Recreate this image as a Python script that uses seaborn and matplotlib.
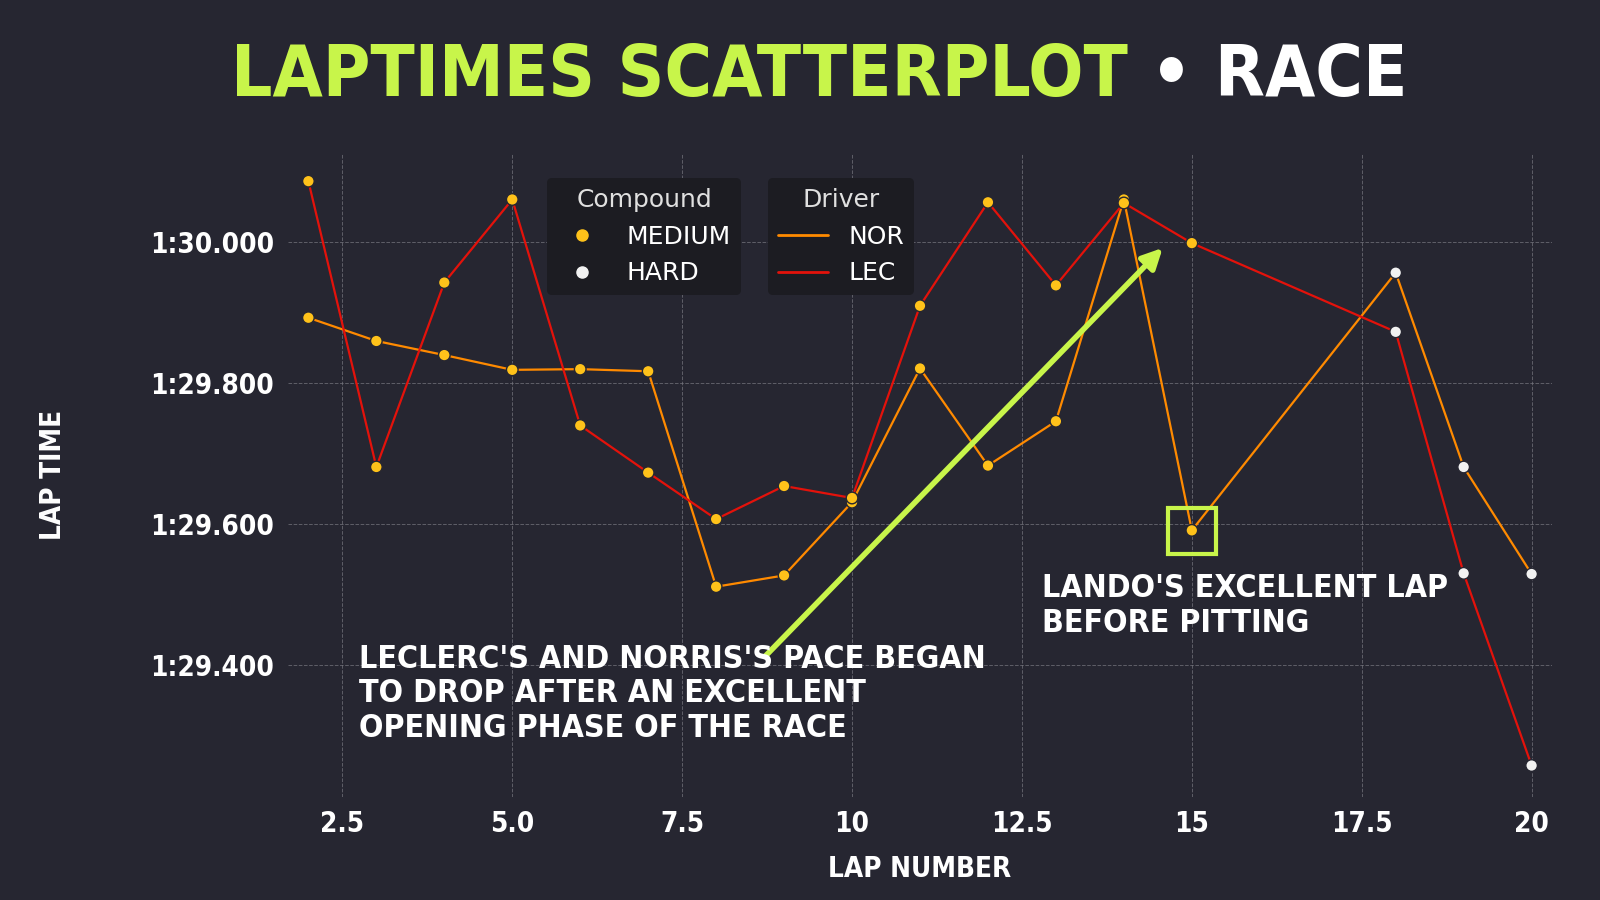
import pandas as pd
import seaborn as sns
import matplotlib.pyplot as plt
from matplotlib.lines import Line2D
from matplotlib.patches import Rectangle
from matplotlib.ticker import FuncFormatter

# lap times in seconds
nor_laps = [2, 3, 4, 5, 6, 7, 8, 9, 10, 11, 12, 13, 14, 15, 18, 19, 20]
nor_times = [89.893, 89.860, 89.840, 89.819, 89.820, 89.817, 89.511, 89.527, 89.631,
             89.821, 89.683, 89.746, 90.061, 89.591, 89.957, 89.681, 89.529]
nor_compound = ["MEDIUM"] * 14 + ["HARD"] * 3
lec_laps = [2, 3, 4, 5, 6, 7, 8, 9, 10, 11, 12, 13, 14, 15, 18, 19, 20]
lec_times = [90.087, 89.681, 89.943, 90.061, 89.740, 89.673, 89.607, 89.654, 89.637,
             89.910, 90.057, 89.939, 90.056, 89.999, 89.873, 89.530, 89.257]
lec_compound = ["MEDIUM"] * 14 + ["HARD"] * 3

df = pd.concat([
    pd.DataFrame({"lap": nor_laps, "time": nor_times, "Compound": nor_compound, "Driver": "NOR"}),
    pd.DataFrame({"lap": lec_laps, "time": lec_times, "Compound": lec_compound, "Driver": "LEC"}),
])

BG = "#262631"
LIME = "#c8f54a"
COND = dict(family="DejaVu Sans", stretch="condensed", fontweight="bold")
driver_colors = {"NOR": "#ff8a00", "LEC": "#e3120b"}
compound_colors = {"MEDIUM": "#ffc21a", "HARD": "#f2f2f2"}

sns.set_style("dark")
plt.rcParams["font.family"] = ["DejaVu Sans"]

fig = plt.figure(figsize=(16, 9), dpi=100, facecolor=BG)
ax = fig.add_axes([0.18, 0.115, 0.79, 0.715], facecolor=BG)

sns.lineplot(data=df, x="lap", y="time", hue="Driver", palette=driver_colors,
             ax=ax, legend=False, linewidth=1.6, zorder=2)
sns.scatterplot(data=df, x="lap", y="time", hue="Compound", palette=compound_colors,
                ax=ax, legend=False, s=70, edgecolor=BG, linewidth=1, zorder=3)

ax.set_xlim(1.7, 20.3)
ax.set_ylim(89.213, 90.127)
ax.set_xticks([2.5, 5.0, 7.5, 10, 12.5, 15, 17.5, 20])
ax.set_xticklabels(["2.5", "5.0", "7.5", "10", "12.5", "15", "17.5", "20"])
ax.set_yticks([89.4, 89.6, 89.8, 90.0])
ax.yaxis.set_major_formatter(FuncFormatter(lambda v, p: f"{int(v // 60)}:{v % 60:06.3f}"))
ax.grid(True, color="#777780", linestyle="--", linewidth=0.7, alpha=0.7)
for s in ax.spines.values():
    s.set_visible(False)
ax.tick_params(colors="white", length=0, pad=10)
for lab in ax.get_xticklabels() + ax.get_yticklabels():
    lab.set_fontstretch("condensed")
    lab.set_fontweight("bold")
    lab.set_fontsize(20)
    lab.set_color("white")
ax.set_xlabel("LAP NUMBER", color="white", fontsize=20, labelpad=12, **COND)
ax.set_ylabel("LAP TIME", color="white", fontsize=20, labelpad=60, **COND)

# legends
comp_handles = [Line2D([], [], marker="o", ls="", color=c, markersize=8) for c in compound_colors.values()]
leg1 = ax.legend(comp_handles, list(compound_colors), title="Compound", loc="upper left",
                 bbox_to_anchor=(0.195, 0.98), facecolor="#1c1c22", edgecolor="none",
                 labelcolor="white", fontsize=18, title_fontsize=18, framealpha=1)
leg1.get_title().set_color("#e0e0e0")
ax.add_artist(leg1)
drv_handles = [Line2D([], [], color=c, lw=2) for c in driver_colors.values()]
leg2= ax.legend(drv_handles, list(driver_colors), title="Driver", loc="upper left",
                 bbox_to_anchor=(0.37, 0.98), facecolor="#1c1c22", edgecolor="none",
                 labelcolor="white", fontsize=18, title_fontsize=18, framealpha=1)
leg2.get_title().set_color("#e0e0e0")

# annotations
ax.annotate("", xy=(14.6, 89.995), xytext=(8.7, 89.41),
            arrowprops=dict(arrowstyle="-|>", color=LIME, lw=4, mutation_scale=30))
ax.add_patch(Rectangle((14.65, 89.558), 0.7, 0.065, fill=False, edgecolor=LIME, lw=3, zorder=4))
ax.text(2.75, 89.43, "LECLERC'S AND NORRIS'S PACE BEGAN\nTO DROP AFTER AN EXCELLENT\nOPENING PHASE OF THE RACE",
        color="white", fontsize=23, va="top", linespacing=1.15, **COND)
ax.text(12.8, 89.53, "LANDO'S EXCELLENT LAP\nBEFORE PITTING",
        color="white", fontsize=23, va="top", linespacing=1.15, **COND)

# title
fig.text(0.705, 0.915, "LAPTIMES SCATTERPLOT", color=LIME, fontsize=52,
         ha="right", va="center", **COND)
fig.text(0.705, 0.915, " \u2022 RACE", color="white", fontsize=52,
         ha="left", va="center", **COND)

fig.savefig("out.png", facecolor=BG)
